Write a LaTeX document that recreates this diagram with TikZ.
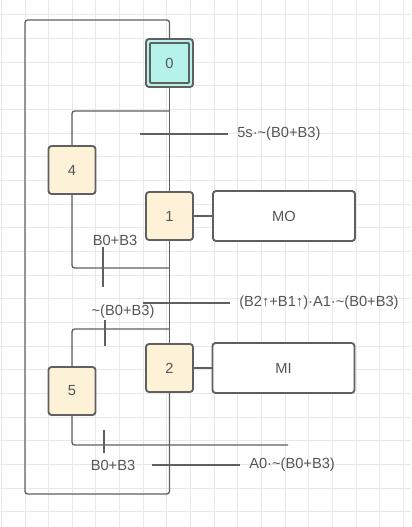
\documentclass[tikz,border=0pt]{standalone}
\usepackage{fontspec}
\setmainfont{Liberation Sans}
\definecolor{linec}{HTML}{606060}
\definecolor{textc}{HTML}{555555}
\definecolor{stepfill}{HTML}{FDF1D8}
\definecolor{initfill}{HTML}{B5F2EA}
\definecolor{gridc}{HTML}{E8E8E8}
\begin{document}
\begin{tikzpicture}[x=0.75pt,y=-0.75pt,
  font=\fontsize{11}{13.2}\selectfont,
  grafstep/.style={draw=linec, fill=stepfill, line width=1.4pt, rounded corners=2.25pt,
    minimum width=35.25pt, minimum height=36pt, inner sep=0pt, text=textc},
  initouter/.style={grafstep, fill=initfill},
  initinner/.style={draw=linec, fill=initfill, line width=1.4pt, rounded corners=0.8pt,
    minimum width=29.25pt, minimum height=30pt, inner sep=0pt, text=textc},
  action/.style={draw=linec, fill=white, line width=1.4pt, rounded corners=2.25pt,
    minimum width=106.5pt, minimum height=37.5pt, inner sep=0pt, text=textc},
  link/.style={draw=linec, line width=1pt},
  lbl/.style={text=textc, inner sep=0pt}]
\useasboundingbox (0,0) rectangle (411,527);
\fill[white] (0,0) rectangle (411,527);
% grid
\foreach \k in {0,...,17} {\draw[gridc, line width=0.75pt] ({1.35+23.65*\k},0) -- ({1.35+23.65*\k},527);}
\foreach \k in {0,...,21} {\draw[gridc, line width=0.75pt] (0,{15+23.65*\k}) -- (411,{15+23.65*\k});}

% steps
\node[initouter] (s0) at (169.5,63) {};
\node[initinner] (s0i) at (169.5,63) {0};
\node[grafstep] (s4) at (72,170) {4};
\node[grafstep] (s1) at (169.5,216) {1};
\node[grafstep] (s2) at (169.5,368) {2};
\node[grafstep] (s5) at (72,391) {5};
\node[action] (mo) at (284,216) {MO};
\node[action] (mi) at (283.5,368) {MI};

% coordinates
\coordinate (j1) at (169.5,111);
\coordinate (j2) at (169.5,268);
\coordinate (j3) at (169.5,329);
\coordinate (e5) at (288,445);
\coordinate (br) at (169.5,494);
\coordinate (bl) at (25,494);
\coordinate (tl) at (25,20);
\coordinate (tr) at (169.5,20);
\coordinate (t1a) at (140,134);
\coordinate (t1b) at (228,134);
\coordinate (t2a) at (143,303);
\coordinate (t2b) at (230,303);
\coordinate (t3a) at (152,465);
\coordinate (t3b) at (240,465);
\coordinate (k1a) at (103,247);
\coordinate (k1b) at (103,287);
\coordinate (k2a) at (105,320);
\coordinate (k2b) at (105,346);
\coordinate (k3a) at (104,430);
\coordinate (k3b) at (104,453);

% labels
\node[lbl, anchor=west] (l1) at (237,134) {5s·\raisebox{0.1ex}{\textasciitilde}(B0+B3)};
\node[lbl, anchor=west] (l2) at (239,303) {(B2↑+B1↑)·A1·\raisebox{0.1ex}{\textasciitilde}(B0+B3)};
\node[lbl, anchor=west] (l3) at (249,465) {A0·\raisebox{0.1ex}{\textasciitilde}(B0+B3)};
\node[lbl] (l4) at (115,240) {B0+B3};
\node[lbl] (l5) at (123,312) {\raisebox{0.1ex}{\textasciitilde}(B0+B3)};
\node[lbl] (l6) at (113,465) {B0+B3};

% connectors
\draw[link] (s0.south) -- (s1.north);
\draw[link] (s1.south) -- (s2.north);
\draw[link, rounded corners=2pt] (j1) -| (s4.north);
\draw[link, rounded corners=2pt] (s4.south) |- (j2);
\draw[link, rounded corners=2pt] (j3) -| (s5.north);
\draw[link, rounded corners=2pt] (s5.south) |- (e5);
\draw[link, rounded corners=2pt] (s2.south) -- (br) -- (bl) -- (tl) -- (tr) -- (s0.north);
\draw[link] (s1.east) -- (mo.west);
\draw[link] (s2.east) -- (mi.west);
\draw[link] (t1a) -- (t1b);
\draw[link] (t2a) -- (t2b);
\draw[link] (t3a) -- (t3b);
\draw[link] (k1a) -- (k1b);
\draw[link] (k2a) -- (k2b);
\draw[link] (k3a) -- (k3b);
\end{tikzpicture}
\end{document}
